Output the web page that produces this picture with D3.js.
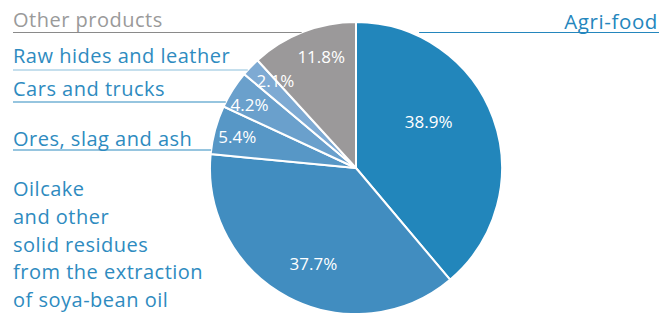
<!DOCTYPE html>
<meta charset="utf-8">
<style>
  body { margin: 0; background: #fff; }
  text { font-family: "Open Sans", sans-serif; }
</style>
<svg width="659" height="313"></svg>
<script src="https://d3js.org/d3.v7.min.js"></script>
<script>
    // data, clockwise from 12 o'clock
    var categories = ["Agri-food", "Oilcake", "Ores, slag and ash", "Cars and trucks", "Raw hides and leather", "Other products"];
    var shares = [38.9, 37.7, 5.4, 4.2, 2.1, 11.8];
    var labelLines = [
        ["Agri-food"],
        ["Oilcake", "and other", "solid residues", "from the extraction", "of soya-bean oil"],
        ["Ores, slag and ash"],
        ["Cars and trucks"],
        ["Raw hides and leather"],
        ["Other products"]
    ];

    var sliceColors = ["#2286bb", "#418dc0", "#5797c6", "#6aa0cc", "#7eaad3", "#9b999a"];
    var textColors = ["#2486bd", "#2e8bc0", "#2e8bc0", "#2e8bc0", "#2e8bc0", "#9a9a9a"];
    var lineColors = ["#2486bd", "#2e8bc0", "#2e8bc0", "#2e8bc0", "#8cbfdc", "#8a8a8a"];
    // where the percentage sits: fraction of radius, and degrees off the mid angle
    var pctRadius = [0.59, 0.717, 0.84, 0.847, 0.815, 0.80];
    var pctTurn = [-12.4, -3.7, -0.6, -1.9, 3.6, 3.9];

    var svg = d3.select("svg"),
        cx = 356, cy = 168, r = 146;

    var g = svg.append("g").attr("transform", "translate(" + cx + "," + cy + ")");

    var pie = d3.pie().sort(null).value(function(d){ return d; });
    var arcs = pie(shares);
    var arc = d3.arc().innerRadius(0).outerRadius(r);

    g.selectAll("path")
        .data(arcs)
        .enter().append("path")
            .attr("d", arc)
            .attr("fill", function(d, i){ return sliceColors[i]; })
            .attr("stroke", "#fff")
            .attr("stroke-width", 2);

    g.selectAll("text.pct")
        .data(arcs)
        .enter().append("text")
            .attr("class", "pct")
            .attr("transform", function(d, i){
                var a = (d.startAngle + d.endAngle) / 2 + pctTurn[i] * Math.PI / 180,
                    rr = r * pctRadius[i];
                return "translate(" + (rr * Math.sin(a)) + "," + (-rr * Math.cos(a)) + ")";
            })
            .attr("text-anchor", "middle")
            .attr("dy", "0.36em")
            .attr("fill", "#fff")
            .style("font-size", "17px")
            .text(function(d){ return d3.format(".1f")(d.data) + "%"; });

    // edge of circle at a given y, left or right side
    function edgeX(y, side){
        var dy = y - cy;
        return cx + side * Math.sqrt(Math.max(0, r * r - dy * dy));
    }

    // single-line labels with underline running to the pie
    var leftLabels = [
        {i: 5, y: 27, ly: 32.5},
        {i: 4, y: 63, ly: 70},
        {i: 3, y: 96, ly: 102},
        {i: 2, y: 146, ly: 150}
    ];

    leftLabels.forEach(function(l){
        svg.append("line")
            .attr("x1", 13).attr("x2", edgeX(l.ly, -1))
            .attr("y1", l.ly).attr("y2", l.ly)
            .attr("stroke", lineColors[l.i]).attr("stroke-width", 1.2);
        svg.append("text")
            .attr("x", 13).attr("y", l.y)
            .attr("fill", textColors[l.i])
            .style("font-size", "20px")
            .style("letter-spacing", "0.5px")
            .text(labelLines[l.i][0]);
    });

    // Agri-food on the right
    svg.append("line")
        .attr("x1", edgeX(32, 1) + 10).attr("x2", 659)
        .attr("y1", 32.5).attr("y2", 32.5)
        .attr("stroke", lineColors[0]).attr("stroke-width", 1.2);
    svg.append("text")
        .attr("x", 658).attr("y", 28.5)
        .attr("text-anchor", "end")
        .attr("fill", textColors[0])
        .style("font-size", "20.5px")
        .style("letter-spacing", "0.6px")
        .text(labelLines[0][0]);

    // Oilcake block
    var oil = svg.append("text")
        .attr("x", 13).attr("y", 196)
        .attr("fill", textColors[1])
        .style("font-size", "20px")
        .style("letter-spacing", "0.5px");
    oil.selectAll("tspan")
        .data(labelLines[1])
        .enter().append("tspan")
            .attr("x", 13)
            .attr("dy", function(d, i){ return i ? 27.8 : 0; })
            .text(function(d){ return d; });
</script>
